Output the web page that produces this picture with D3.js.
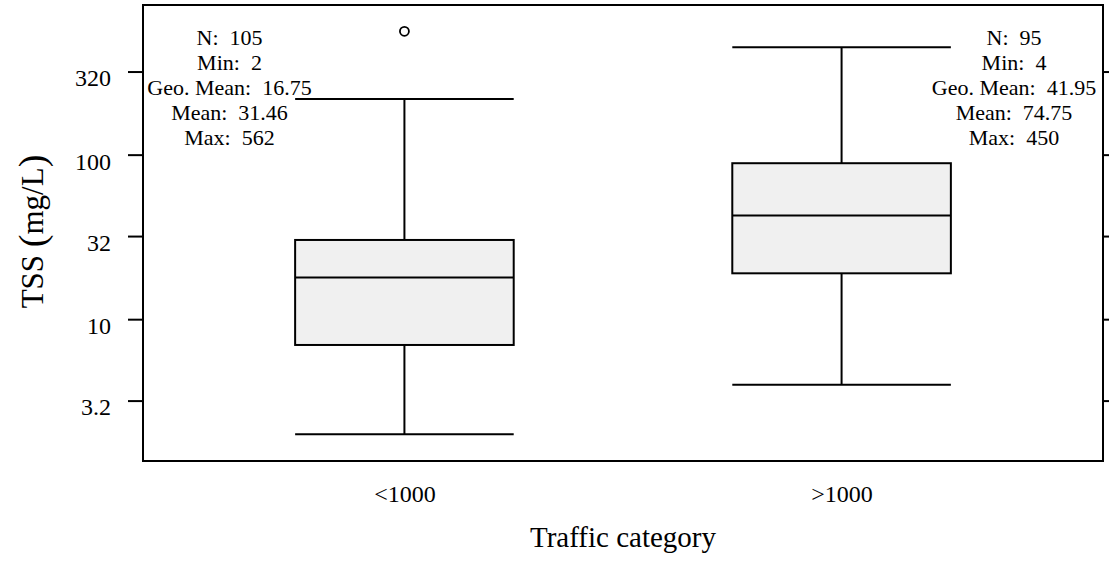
<!DOCTYPE html>
<html>
<head>
<meta charset="utf-8">
<script src="https://cdn.jsdelivr.net/npm/d3@7"></script>
<style>
  html, body { margin: 0; padding: 0; background: #fff; }
  svg { display: block; }
  text { font-family: "Liberation Serif", "Times New Roman", serif; fill: #000; }
</style>
</head>
<body>
<svg id="chart" width="1109" height="563"></svg>
<script>
// ---- data ----
const categories = ["<1000", ">1000"];
const whiskerLow  = [2, 4];
const q1          = [6.97, 19.0];
const median      = [17.9, 42.6];
const q3          = [30.3, 88.7];
const whiskerHigh = [218, 450];
const outliers    = [[562], []];
const yTickValues = [3.2, 10, 32, 100, 320];
const yTickLabels = ["3.2", "10", "32", "100", "320"];
const statsLabels = [
  ["N:  105", "Min:  2", "Geo. Mean:  16.75", "Mean:  31.46", "Max:  562"],
  ["N:  95", "Min:  4", "Geo. Mean:  41.95", "Mean:  74.75", "Max:  450"]
];
const xTitle = "Traffic category";
const yTitle = "TSS (mg/L)";

// ---- layout ----
const W = 1109, H = 563;
const plot = { left: 143, right: 1103, top: 5, bottom: 461 };
const svg = d3.select("#chart");

const x = d3.scalePoint().domain(categories).range([plot.left, plot.right]).padding(0.598);
const y = d3.scaleLog().domain([1.374, 812]).range([plot.bottom, plot.top]);
const boxW = x.step() * 0.5;

// frame
svg.append("rect")
  .attr("x", plot.left).attr("y", plot.top)
  .attr("width", plot.right - plot.left).attr("height", plot.bottom - plot.top)
  .attr("fill", "none").attr("stroke", "#000").attr("stroke-width", 2);

// left axis
const yAxisL = svg.append("g").attr("transform", `translate(${plot.left},0)`)
  .call(d3.axisLeft(y).tickValues(yTickValues).tickSize(15).tickPadding(17)
    .tickFormat((d, i) => yTickLabels[i]));
yAxisL.select(".domain").remove();
yAxisL.selectAll(".tick line").attr("stroke", "#000").attr("stroke-width", 2);
yAxisL.selectAll(".tick text").attr("dy", "0.6em").style("font-size", "24px");

// right axis
const yAxisR = svg.append("g").attr("transform", `translate(${plot.right},0)`)
  .call(d3.axisRight(y).tickValues(yTickValues).tickSize(15).tickFormat(""));
yAxisR.select(".domain").remove();
yAxisR.selectAll(".tick line").attr("stroke", "#000").attr("stroke-width", 2);

// bottom axis labels
const xAxis = svg.append("g").attr("transform", `translate(0,${plot.bottom})`)
  .call(d3.axisBottom(x).tickSize(0).tickSizeOuter(0));
xAxis.select(".domain").remove();
xAxis.selectAll(".tick text").attr("y", 41).attr("dy", 0).style("font-size", "24px");

// boxes
const g = svg.append("g");
categories.forEach((c, i) => {
  const cx = x(c);
  const gg = g.append("g").attr("stroke", "#000").attr("stroke-width", 2);
  // whisker stems
  gg.append("line").attr("x1", cx).attr("x2", cx).attr("y1", y(q3[i])).attr("y2", y(whiskerHigh[i]));
  gg.append("line").attr("x1", cx).attr("x2", cx).attr("y1", y(q1[i])).attr("y2", y(whiskerLow[i]));
  // caps
  gg.append("line").attr("x1", cx - boxW / 2).attr("x2", cx + boxW / 2).attr("y1", y(whiskerHigh[i])).attr("y2", y(whiskerHigh[i]));
  gg.append("line").attr("x1", cx - boxW / 2).attr("x2", cx + boxW / 2).attr("y1", y(whiskerLow[i])).attr("y2", y(whiskerLow[i]));
  // box
  gg.append("rect").attr("x", cx - boxW / 2).attr("y", y(q3[i]))
    .attr("width", boxW).attr("height", y(q1[i]) - y(q3[i]))
    .attr("fill", "#f0f0f0");
  // median
  gg.append("line").attr("x1", cx - boxW / 2).attr("x2", cx + boxW / 2).attr("y1", y(median[i])).attr("y2", y(median[i]));
  // outliers
  outliers[i].forEach(v => {
    gg.append("circle").attr("cx", cx).attr("cy", y(v)).attr("r", 4.5)
      .attr("fill", "none").attr("stroke-width", 1.8);
  });
});

// stats annotations
const statX = [plot.left + 86.5, plot.right - 89];
statsLabels.forEach((lines, i) => {
  const t = svg.append("text").attr("text-anchor", "middle")
    .style("font-size", "22px").style("white-space", "pre");
  lines.forEach((ln, j) => {
    t.append("tspan").attr("x", statX[i]).attr("y", 44.5 + 25 * j).text(ln);
  });
});

// axis titles
svg.append("text").attr("x", (plot.left + plot.right) / 2).attr("y", 547)
  .attr("text-anchor", "middle").style("font-size", "29px").text(xTitle);

const yt = svg.append("text").attr("transform", "translate(43,231.5) rotate(-90)")
  .attr("text-anchor", "middle").style("font-size", "31px");
yt.append("tspan").text("TSS ");
yt.append("tspan").style("font-size", "38px").attr("dy", 2).text("(");
yt.append("tspan").attr("dy", -2).text("mg/L");
yt.append("tspan").style("font-size", "38px").attr("dy", 2).text(")");
</script>
</body>
</html>
